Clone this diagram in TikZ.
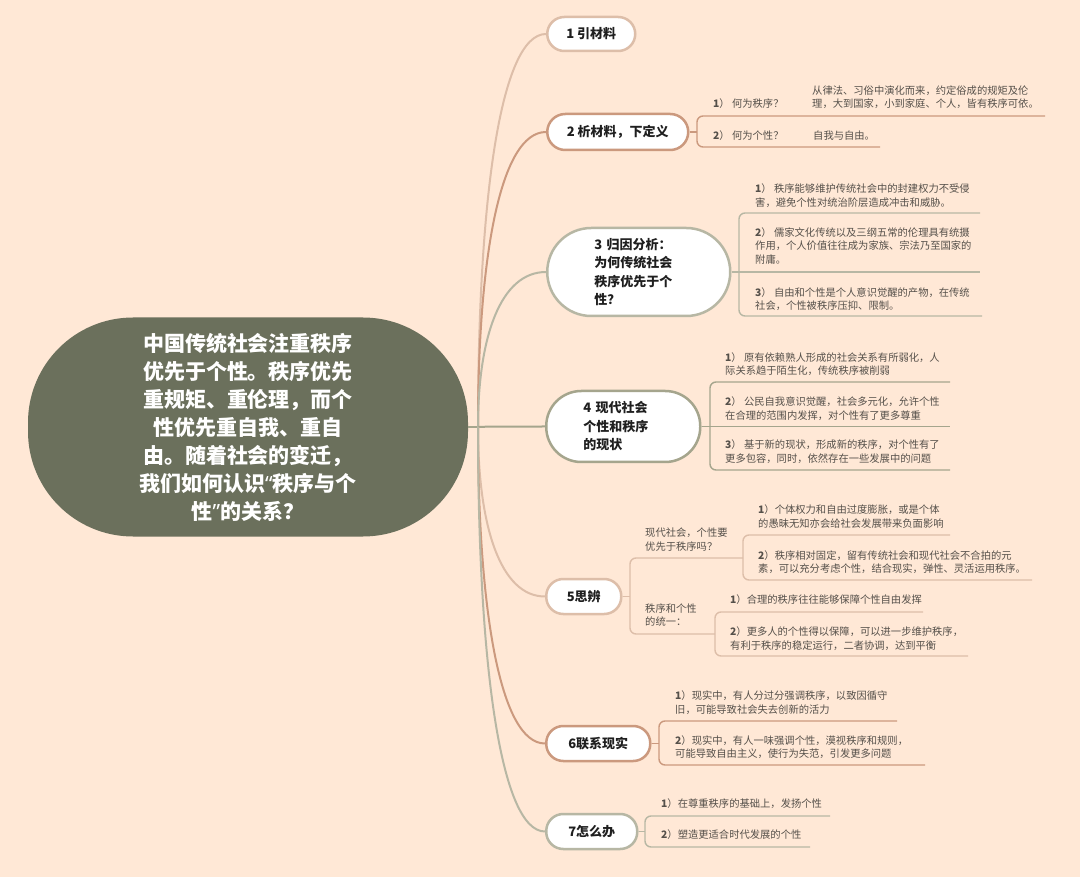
\documentclass[tikz,border=0pt]{standalone}
\usepackage{fontspec}
\setmainfont{Noto Sans CJK SC}
\newfontfamily\latq{Noto Sans}
\usetikzlibrary{calc}
\definecolor{bgc}{HTML}{FFE8D6}
\definecolor{ca}{HTML}{DDBEA9}
\definecolor{cb}{HTML}{CB997E}
\definecolor{cc}{HTML}{B7B7A4}
\definecolor{cd}{HTML}{A5A58D}
\definecolor{rootc}{HTML}{6B705C}
\definecolor{txt}{HTML}{55504A}
\begin{document}
\begin{tikzpicture}[x=1pt,y=-1pt,
  mainnode/.style={draw, fill=white, line width=2.5pt, inner sep=0pt,
    font=\fontsize{13}{18.5}\selectfont\bfseries, text=black!88},
  leaf/.style={anchor=west, inner sep=0pt, align=left, text=txt,
    font=\fontsize{10.3}{13.5}\selectfont},
  br/.style={line width=1.4pt, rounded corners=6},
  conn/.style={line width=2pt}]
\path[use as bounding box, fill=bgc] (0,0) rectangle (1080,877);

% root
\node[fill=rootc, rounded corners=105, minimum width=440pt, minimum height=219pt,
  inner sep=0pt, align=center, text=white, font=\fontsize{21}{28}\selectfont\bfseries]
  (root) at (248,427) {中国传统社会注重秩序\\优先于个性。秩序优先\\重规矩、重伦理，而个\\性优先重自我、重自\\由。随着社会的变迁，\\我们如何认识{\latq “}秩序与个\\性{\latq ”}的关系？};

% main topics
\node[mainnode, draw=ca, rounded corners=17, minimum width=88pt, minimum height=34pt, anchor=west] (n1) at (546,34) {1 引材料};
\node[mainnode, draw=cb, rounded corners=18, minimum width=141pt, minimum height=36pt, anchor=west] (n2) at (546,132) {2 析材料，下定义};
\node[mainnode, draw=cc, rounded corners=44, minimum height=88pt, anchor=west,
  align=left, text width=89pt, inner xsep=47pt] (n3) at (546,272) {3 归因分析：\\为何传统社会\\秩序优先于个\\性？};
\node[mainnode, draw=cd, rounded corners=35, minimum height=71pt, anchor=west,
  align=left, text width=80pt, inner xsep=37pt] (n4) at (545,426.5) {4 现代社会\\个性和秩序\\的现状};
\node[mainnode, draw=ca, rounded corners=17, minimum width=75pt, minimum height=35pt, anchor=west] (n5) at (545,596.5) {5思辨};
\node[mainnode, draw=cb, rounded corners=17, minimum width=104pt, minimum height=35pt, anchor=west] (n6) at (545,743.5) {6联系现实};
\node[mainnode, draw=cc, rounded corners=17, minimum width=91pt, minimum height=35pt, anchor=west] (n7) at (545,831.5) {7怎么办};

% connectors
\coordinate (o) at (478,427);
\draw[conn, cd] (root.east) -- (o);
\foreach \n/\c in {n1/ca,n2/cb,n3/cc,n4/cd,n5/ca,n6/cb,n7/cc}
  \draw[conn, \c] (o) .. controls ($(o|-\n.west)!0.42!(o)$) and ($(o|-\n.west)!0.33!(\n.west)$) .. (\n.west);

% branch 2
\draw[br, cb] (n2.east) -- (697,132);
\draw[br, cb] (1045,116) -- (697,116) -- (697,147) -- (880,147);
\node[leaf] (n2a) at (713,104) {\textbf{1}）\ 何为秩序？};
\node[leaf] (n2aa) at (812,97) {从律法、习俗中演化而来，约定俗成的规矩及伦\\理，大到国家，小到家庭、个人，皆有秩序可依。};
\node[leaf] (n2b) at (713,136) {\textbf{2}）\ 何为个性？};
\node[leaf] (n2bb) at (813,136) {自我与自由。};

% branch 3
\draw[br, cc] (n3.east) -- (980,272);
\draw[br, cc] (980,213) -- (739,213) -- (739,316) -- (982,316);
\node[leaf] (n3a) at (755,195.5) {\textbf{1}）\ 秩序能够维护传统社会中的封建权力不受侵\\害，避免个性对统治阶层造成冲击和威胁。};
\node[leaf] (n3b) at (755,246) {\textbf{2}）\ 儒家文化传统以及三纲五常的伦理具有统摄\\作用，个人价值往往成为家族、宗法乃至国家的\\附庸。};
\node[leaf] (n3c) at (755,299) {\textbf{3}）\ 自由和个性是个人意识觉醒的产物，在传统\\社会，个性被秩序压抑、限制。};

% branch 4
\draw[br, cd] (n4.east) -- (950,426.5);
\draw[br, cd] (950,382) -- (710,382) -- (710,470) -- (950,470);
\node[leaf] (n4a) at (725,364) {\textbf{1}）\ 原有依赖熟人形成的社会关系有所弱化，人\\际关系趋于陌生化，传统秩序被削弱};
\node[leaf] (n4b) at (725,408.5) {\textbf{2}）\ 公民自我意识觉醒，社会多元化，允许个性\\在合理的范围内发挥，对个性有了更多尊重};
\node[leaf] (n4c) at (725,451.5) {\textbf{3}）\ 基于新的现状，形成新的秩序，对个性有了\\更多包容，同时，依然存在一些发展中的问题};

% branch 5
\draw[br, ca] (n5.east) -- (630,596.5);
\draw[br, ca] (743,558) -- (630,558) -- (630,634) -- (715,634);
\draw[br, ca] (950,535) -- (743,535) -- (743,580) -- (1032,580);
\draw[br, ca] (923,612) -- (715,612) -- (715,656) -- (968,656);
\node[leaf] (n5q1) at (645,539.5) {现代社会，个性要\\优先于秩序吗？};
\node[leaf] (n5q2) at (645,615) {秩序和个性\\的统一：};
\node[leaf] (n5q1a) at (758,516.5) {\textbf{1}）个体权力和自由过度膨胀，或是个体\\的愚昧无知亦会给社会发展带来负面影响};
\node[leaf] (n5q1b) at (758,562) {\textbf{2}）秩序相对固定，留有传统社会和现代社会不合拍的元\\素，可以充分考虑个性，结合现实，弹性、灵活运用秩序。};
\node[leaf] (n5q2a) at (730,600) {\textbf{1}）合理的秩序往往能够保障个性自由发挥};
\node[leaf] (n5q2b) at (730,638.5) {\textbf{2}）更多人的个性得以保障，可以进一步维护秩序，\\有利于秩序的稳定运行，二者协调，达到平衡};

% branch 6
\draw[br, cb] (n6.east) -- (659,743.5);
\draw[br, cb] (897,721) -- (659,721) -- (659,765) -- (925,765);
\node[leaf] (n6a) at (675,702.5) {\textbf{1}）现实中，有人分过分强调秩序，以致因循守\\旧，可能导致社会失去创新的活力};
\node[leaf] (n6b) at (675,747) {\textbf{2}）现实中，有人一味强调个性，漠视秩序和规则，\\可能导致自由主义，使行为失范，引发更多问题};

% branch 7
\draw[br, cc] (n7.east) -- (645,831.5);
\draw[br, cc] (830,816) -- (645,816) -- (645,847) -- (810,847);
\node[leaf] (n7a) at (661,804) {\textbf{1}）在尊重秩序的基础上，发扬个性};
\node[leaf] (n7b) at (661,835) {\textbf{2}）塑造更适合时代发展的个性};
\end{tikzpicture}
\end{document}
